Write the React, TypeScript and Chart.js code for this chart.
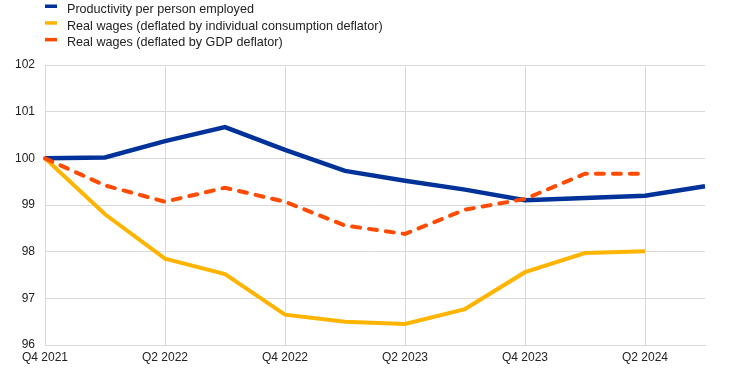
import React, { useEffect, useRef } from "react";
import { Chart, registerables } from "chart.js";

Chart.register(...registerables);

const categories = [
  "Q4 2021", "Q1 2022", "Q2 2022", "Q3 2022", "Q4 2022", "Q1 2023",
  "Q2 2023", "Q3 2023", "Q4 2023", "Q1 2024", "Q2 2024", "Q3 2024",
];
const productivity = [100, 100.02, 100.37, 100.67, 100.18, 99.73, 99.52, 99.33, 99.1, 99.15, 99.2, 99.4];
const realWagesConsumption = [100, 98.8, 97.85, 97.52, 96.65, 96.5, 96.45, 96.77, 97.56, 97.97, 98.01, null];
const realWagesGdp = [100, 99.42, 99.07, 99.37, 99.07, 98.56, 98.38, 98.9, 99.13, 99.67, 99.67, null];

const seriesNames = [
  "Productivity per person employed",
  "Real wages (deflated by individual consumption deflator)",
  "Real wages (deflated by GDP deflator)",
];
const colors = ["#003299", "#FFB400", "#FF4B00"];
const FONT = "Arial, 'Liberation Sans', sans-serif";
const TEXT = "#222222";
const GRID = "#d9d9d9";

const legendPlugin = {
  id: "stackedLegend",
  afterDraw(chart: any) {
    const ctx = chart.ctx;
    ctx.save();
    ctx.font = `12.6px ${FONT}`;
    ctx.textBaseline = "middle";
    ctx.textAlign = "left";
    chart.data.datasets.forEach((ds: any, i: number) => {
      const y = 9.5 + i * 16.7;
      ctx.fillStyle = ds.borderColor;
      ctx.fillRect(45, y - 5, 12, 3.5);
      ctx.fillStyle = TEXT;
      ctx.fillText(ds.label, 67, y);
    });
    ctx.restore();
  },
};

export default function App() {
  const ref = useRef<HTMLCanvasElement>(null);
  useEffect(() => {
    document.body.style.margin = "0";
    const chart = new Chart(ref.current!, {
      type: "line",
      data: {
        labels: categories,
        datasets: [
          { label: seriesNames[0], data: productivity, borderColor: colors[0], backgroundColor: colors[0], borderWidth: 4.5, pointRadius: 0, tension: 0, order: 2 },
          { label: seriesNames[1], data: realWagesConsumption, borderColor: colors[1], backgroundColor: colors[1], borderWidth: 4, pointRadius: 0, tension: 0, order: 1 },
          { label: seriesNames[2], data: realWagesGdp, borderColor: colors[2], backgroundColor: colors[2], borderWidth: 4, pointRadius: 0, tension: 0, borderDash: [8, 9], borderCapStyle: "round", order: 0 },
        ] as any,
      },
      options: {
        animation: false,
        responsive: false,
        maintainAspectRatio: false,
        layout: { padding: { top: 65, right: 37, left: 0, bottom: 0 } },
        plugins: { legend: { display: false }, tooltip: { enabled: false } },
        scales: {
          x: {
            afterFit: (s: any) => { s.height = 26; },
            grid: {
              drawTicks: false,
              color: (c: any) => (c.index % 2 === 0 && c.index > 0 ? GRID : "rgba(0,0,0,0)"),
              lineWidth: 1,
            },
            border: { color: GRID },
            ticks: {
              autoSkip: false,
              maxRotation: 0,
              padding: 5,
              color: TEXT,
              font: { family: FONT, size: 12 },
              callback: (_v: any, i: number) => (i % 2 === 0 ? categories[i] : ""),
            },
          },
          y: {
            min: 96,
            max: 102,
            afterFit: (s: any) => { s.width = 45; },
            grid: { drawTicks: false, color: GRID },
            border: { color: GRID },
            ticks: { stepSize: 1, padding: 10, color: TEXT, font: { family: FONT, size: 12 } },
          },
        },
      },
      plugins: [legendPlugin],
    });
    return () => chart.destroy();
  }, []);
  return (
    <div style={{ position: "fixed", left: 0, top: 0, width: 742, height: 371 }}>
      <canvas ref={ref} width={742} height={371} />
    </div>
  );
}
